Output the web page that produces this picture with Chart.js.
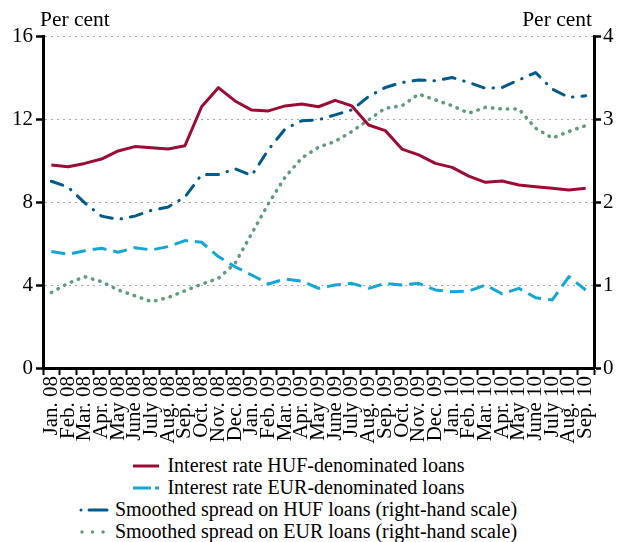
<!DOCTYPE html>
<html>
<head>
<meta charset="utf-8">
<script src="https://cdn.jsdelivr.net/npm/chart.js@4"></script>
<style>
  html, body { margin: 0; padding: 0; background: #fff; }
  #wrap { position: relative; width: 622px; height: 542px; }
  #chart { position: absolute; left: 0; top: 0; }
  #legend {
    position: absolute; left: 0; top: 454px; width: 596px;
    font-family: "Liberation Serif", serif; font-size: 20px; color: #000;
    text-align: center; line-height: 22px;
  }
  #legend div { white-space: nowrap; }
  #legend svg { vertical-align: middle; margin-right: 6px; position: relative; top: -1px; }
</style>
</head>
<body>
<div id="wrap">
  <canvas id="chart" width="622" height="450"></canvas>
  <div id="legend"></div>
</div>
<script>
const months = [
  "Jan. 08", "Feb. 08", "Mar. 08", "Apr. 08", "May 08", "June 08", "July 08", "Aug. 08",
  "Sep. 08", "Oct. 08", "Nov. 08", "Dec. 08", "Jan. 09", "Feb. 09", "Mar. 09", "Apr. 09",
  "May 09", "June 09", "July 09", "Aug. 09", "Sep. 09", "Oct. 09", "Nov. 09", "Dec. 09",
  "Jan. 10", "Feb. 10", "Mar. 10", "Apr. 10", "May 10", "June 10", "July 10", "Aug. 10", "Sep. 10"
];

// left-hand scale, per cent
const hufRate = [
  9.78, 9.70, 9.86, 10.07, 10.46, 10.67, 10.62, 10.55, 10.71, 12.59, 13.51, 12.87,
  12.43, 12.39, 12.63, 12.72, 12.59, 12.90, 12.63, 11.71, 11.44, 10.55, 10.27, 9.86,
  9.67, 9.25, 8.95, 9.01, 8.82, 8.74, 8.66, 8.58, 8.66
];
const eurRate = [
  5.61, 5.48, 5.65, 5.77, 5.58, 5.80, 5.69, 5.85, 6.14, 6.06, 5.37, 4.88,
  4.48, 4.05, 4.29, 4.19, 3.84, 4.00, 4.08, 3.84, 4.08, 4.00, 4.08, 3.76,
  3.68, 3.71, 4.00, 3.57, 3.84, 3.39, 3.28, 4.40, 3.76
];

// right-hand scale, per cent
const hufSpread = [
  2.25, 2.18, 1.99, 1.83, 1.79, 1.83, 1.90, 1.94, 2.06, 2.33, 2.33, 2.40,
  2.32, 2.63, 2.88, 2.98, 2.99, 3.05, 3.11, 3.27, 3.38, 3.44, 3.47, 3.46,
  3.50, 3.44, 3.37, 3.38, 3.47, 3.56, 3.36, 3.26, 3.28
];
const eurSpread = [
  0.91, 1.02, 1.10, 1.04, 0.94, 0.87, 0.80, 0.85, 0.93, 1.01, 1.08, 1.26,
  1.62, 1.98, 2.30, 2.53, 2.66, 2.73, 2.85, 2.99, 3.13, 3.16, 3.30, 3.23,
  3.16, 3.07, 3.14, 3.12, 3.12, 2.89, 2.77, 2.85, 2.92
];

const leftTicks = [0, 4, 8, 12, 16];
const rightTicks = [0, 1, 2, 3, 4];

const font = '"Liberation Serif", serif';

const series = [
  { label: "Interest rate HUF-denominated loans", data: hufRate, axis: "y",
    color: "#9b0b34", dash: [], cap: "butt", width: 3, key: { x1: 2, x2: 28, dash: "" } },
  { label: "Interest rate EUR-denominated loans", data: eurRate, axis: "y",
    color: "#14a6d4", dash: [14, 7], cap: "butt", width: 3, key: { x1: 2, x2: 28, dash: "18 4 4" } },
  { label: "Smoothed spread on HUF loans (right-hand scale)", data: hufSpread, axis: "y1",
    color: "#005b88", dash: [12, 9, 0.5, 9], cap: "round", width: 3, key: { x1: 2, x2: 28, dash: "0.01 8 20" } },
  { label: "Smoothed spread on EUR loans (right-hand scale)", data: eurSpread, axis: "y1",
    color: "#5e9c7c", dash: [0.5, 7], cap: "round", width: 3.5, key: { x1: 3, x2: 25, dash: "0.01 10.5" } }
];

const perCent = {
  id: "perCent",
  afterDraw(chart) {
    const { ctx, chartArea } = chart;
    ctx.save();
    ctx.fillStyle = "#000";
    ctx.font = `21.5px ${font}`;
    ctx.textBaseline = "alphabetic";
    ctx.textAlign = "left";
    ctx.fillText("Per cent", chartArea.left - 3, 26);
    ctx.textAlign = "right";
    ctx.fillText("Per cent", chartArea.right - 2, 26);
    ctx.restore();
  }
};

new Chart(document.getElementById("chart"), {
  type: "line",
  data: {
    labels: months,
    datasets: series.map((s) => ({
      label: s.label,
      data: s.data,
      yAxisID: s.axis,
      borderColor: s.color,
      backgroundColor: s.color,
      borderWidth: s.width,
      borderDash: s.dash,
      borderCapStyle: s.cap,
      borderJoinStyle: "round",
      pointRadius: 0,
      tension: 0,
      fill: false
    }))
  },
  options: {
    responsive: false,
    animation: false,
    layout: { padding: { top: 36, left: 0, right: 0, bottom: 0 } },
    plugins: { legend: { display: false }, tooltip: { enabled: false } },
    scales: {
      x: {
        offset: true,
        afterFit: (s) => { s.height = 82; },
        grid: { drawOnChartArea: false, drawTicks: true, tickLength: 7, tickColor: "#000", tickWidth: 2, offset: true },
        border: { color: "#000", width: 3 },
        ticks: {
          autoSkip: false, maxRotation: 90, minRotation: 90, padding: 1,
          color: "#000", font: { family: font, size: 21 }
        }
      },
      y: {
        position: "left",
        min: 0, max: 16,
        afterFit: (s) => { s.width = 43; },
        afterBuildTicks: (s) => { s.ticks = leftTicks.map((v) => ({ value: v })); },
        grid: { color: "#a8a8a8", lineWidth: 1, tickLength: 7, tickColor: "#000", tickWidth: 2.5 },
        border: { color: "#000", width: 3, dash: [2, 4] },
        ticks: { color: "#000", padding: 3, font: { family: font, size: 21 } }
      },
      y1: {
        position: "right",
        min: 0, max: 4,
        afterFit: (s) => { s.width = 28; },
        afterBuildTicks: (s) => { s.ticks = rightTicks.map((v) => ({ value: v })); },
        grid: { drawOnChartArea: false, tickLength: 7, tickColor: "#000", tickWidth: 2.5 },
        border: { color: "#000", width: 3 },
        ticks: { color: "#000", padding: 2, font: { family: font, size: 21 } }
      }
    }
  },
  plugins: [perCent]
});

function sample(s) {
  const dash = s.key.dash ? `stroke-dasharray="${s.key.dash}"` : "";
  return `<svg width="30" height="8"><line x1="${s.key.x1}" y1="4" x2="${s.key.x2}" y2="4" stroke="${s.color}"
    stroke-width="${s.width}" stroke-linecap="${s.cap}" ${dash}/></svg>`;
}

document.getElementById("legend").innerHTML = series
  .map((s) => `<div>${sample(s)}${s.label}</div>`)
  .join("");
</script>
</body>
</html>
